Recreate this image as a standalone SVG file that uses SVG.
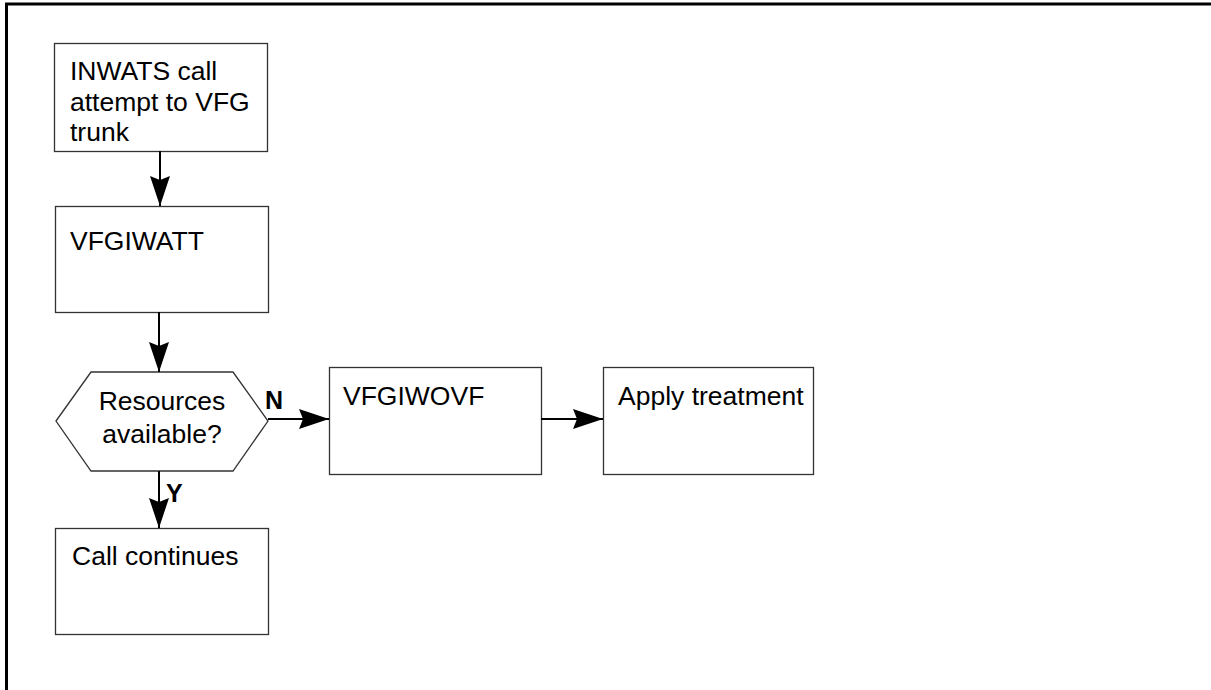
<svg xmlns="http://www.w3.org/2000/svg" width="1211" height="690" viewBox="0 0 1211 690">
<style>
.box{fill:#fff;stroke:#333;stroke-width:1.3}
.t{font-family:"Liberation Sans",Arial,sans-serif;font-size:26.5px;fill:#000}
.lbl{font-family:"Liberation Sans",Arial,sans-serif;font-size:25px;font-weight:bold;fill:#000}
.c{stroke:#000;stroke-width:2;fill:none}
.frame{stroke:#000;stroke-width:3;fill:none}
</style>
<defs>
<marker id="ah" markerUnits="userSpaceOnUse" markerWidth="32" markerHeight="22" refX="30" refY="10" orient="auto">
<path d="M0,0 L30,10 L0,20 L4,10 Z" fill="#000"/>
</marker>
</defs>
<rect width="1211" height="690" fill="#fff"/>
<path class="frame" d="M6.5,690 V4 H1211"/>
<g id="n1">
<rect class="box" x="54.5" y="43.5" width="213" height="108"/>
<text class="t" x="70" y="80">INWATS call</text>
<text class="t" x="70" y="111">attempt to VFG</text>
<text class="t" x="70" y="141">trunk</text>
</g>
<g id="n2">
<rect class="box" x="55.5" y="206.5" width="213" height="106"/>
<text class="t" x="70" y="250">VFGIWATT</text>
</g>
<g id="n3">
<polygon class="box" points="56,421 91,372 233,372 268,421 233,471 91,471"/>
<text class="t" x="162" y="410" text-anchor="middle">Resources</text>
<text class="t" x="162" y="443" text-anchor="middle">available?</text>
</g>
<g id="n4">
<rect class="box" x="329.5" y="367.5" width="212" height="107"/>
<text class="t" x="343" y="405">VFGIWOVF</text>
</g>
<g id="n5">
<rect class="box" x="603.5" y="367.5" width="210" height="107"/>
<text class="t" x="618" y="405">Apply treatment</text>
</g>
<g id="n6">
<rect class="box" x="55.5" y="528.5" width="213" height="106"/>
<text class="t" x="72" y="565">Call continues</text>
</g>
<g id="connectors">
<line class="c" x1="160" y1="151" x2="160" y2="206" marker-end="url(#ah)"/>
<line class="c" x1="159" y1="312" x2="159" y2="372" marker-end="url(#ah)"/>
<line class="c" x1="268" y1="419" x2="329" y2="419" marker-end="url(#ah)"/>
<line class="c" x1="541" y1="419" x2="603" y2="419" marker-end="url(#ah)"/>
<line class="c" x1="159" y1="471" x2="159" y2="528" marker-end="url(#ah)"/>
<text class="lbl" x="265" y="409">N</text>
<text class="lbl" x="166" y="502">Y</text>
</g>
</svg>
